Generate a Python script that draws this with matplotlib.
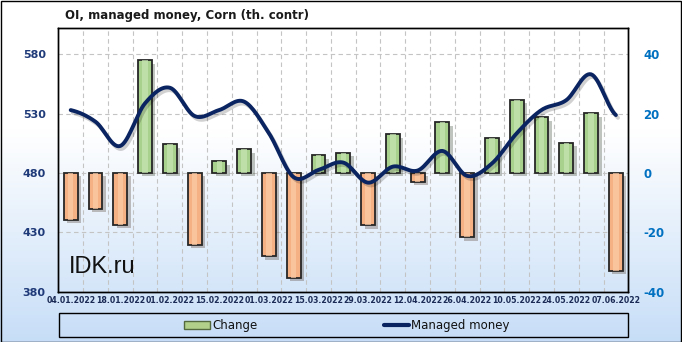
import numpy as np
import matplotlib.pyplot as plt
import matplotlib.patheffects as pe
from matplotlib.patches import Rectangle
from matplotlib.lines import Line2D

plt.rcParams['axes.unicode_minus'] = False

dates = ["04.01.2022", "11.01.2022", "18.01.2022", "25.01.2022", "01.02.2022", "08.02.2022",
         "15.02.2022", "22.02.2022", "01.03.2022", "08.03.2022", "15.03.2022", "22.03.2022",
         "29.03.2022", "05.04.2022", "12.04.2022", "19.04.2022", "26.04.2022", "03.05.2022",
         "10.05.2022", "17.05.2022", "24.05.2022", "31.05.2022", "07.06.2022"]
change = [-15.7, -12.0, -17.4, 38.0, 9.6, -24.2, 4.0, 8.0, -28.0, -35.3, 5.9, 6.8,
          -17.7, 13.0, -3.0, 17.1, -21.6, 11.9, 24.7, 18.7, 10.2, 20.1, -33.0]
managed = [532.9, 523.1, 502.7, 538.6, 551.7, 527.9, 533.0, 540.0, 513.4, 476.4, 482.5, 488.7,
           471.8, 485.3, 482.0, 498.5, 477.5, 488.0, 513.4, 533.0, 541.3, 563.0, 528.7]

W, H = 682, 342
navy = '#0a2461'
green = '#a9d18e'
orange = '#f5b183'


def smooth(y, n=16):
    # catmull-rom curve through the weekly points (drawing only)
    y = np.asarray(y, float)
    p = np.concatenate([[y[0]], y, [y[-1]]])
    xs, ys = [], []
    for i in range(len(y) - 1):
        p0, p1, p2, p3 = p[i], p[i + 1], p[i + 2], p[i + 3]
        t = np.linspace(0, 1, n, endpoint=False)
        v = 0.5 * ((2 * p1) + (-p0 + p2) * t + (2 * p0 - 5 * p1 + 4 * p2 - p3) * t ** 2
                   + (-p0 + 3 * p1 - 3 * p2 + p3) * t ** 3)
        xs.extend(i + t)
        ys.extend(v)
    xs.append(len(y) - 1)
    ys.append(y[-1])
    return np.array(xs), np.array(ys)


fig = plt.figure(figsize=(W / 100, H / 100), dpi=100)

# background gradient
bg = fig.add_axes([0, 0, 1, 1], zorder=-10)
grad = np.clip((0.62 - np.linspace(1, 0, 200)) / 0.62, 0, 1)[:, None]
top = np.array([1.0, 1.0, 1.0])
bot = np.array([0.78, 0.87, 0.97])
img = top + (bot - top) * grad[..., None]
img = np.repeat(img, 2, axis=1)
bg.imshow(img, aspect='auto', extent=[0, 1, 0, 1], origin='upper')
bg.set_xlim(0, 1)
bg.set_ylim(0, 1)
bg.axis('off')

axb = fig.add_axes([58.3 / W, 1 - 291.7 / H, (628.3 - 58.3) / W, (291.7 - 28) / H])
axb.patch.set_alpha(0)
axl = axb.twinx()

x = np.arange(len(dates))
cols = [green if v >= 0 else orange for v in change]
axb.bar(x, change, width=0.56, color=cols, edgecolor='#262626', linewidth=1.3, zorder=3,
        path_effects=[pe.SimplePatchShadow(offset=(2.5, -2.5), alpha=0.3), pe.Normal()])
hl = ['#c9e5b4' if v >= 0 else '#fbcba8' for v in change]
axb.bar(x, change, width=0.22, color=hl, linewidth=0, zorder=4, alpha=0.7)

axb.set_xlim(-0.5, len(dates) - 0.5)
axb.set_ylim(-40, 48.8)
axb.set_yticks([-40, -20, 0, 20, 40])
axb.yaxis.tick_right()
axb.set_xticks(x[::2])
axb.set_xticklabels(dates[::2])
axb.set_xticks(x[:-1] + 0.5, minor=True)
axb.grid(True, which='minor', axis='x', color='#c4c4c4', linestyle=(0, (4, 3)), linewidth=0.8)
axb.grid(True, which='major', axis='y', color='#c4c4c4', linestyle=(0, (4, 3)), linewidth=0.8)
axb.set_axisbelow(True)
axb.tick_params(axis='x', which='both', length=0, pad=3, labelsize=5.6, labelcolor='#1a2a55')
axb.tick_params(axis='y', length=0, pad=11, labelsize=8.5, labelcolor='#0070c0')
for t in axb.get_xticklabels():
    t.set_fontweight('bold')
for t in axb.get_yticklabels():
    t.set_fontweight('bold')

sx, sy = smooth(managed)
axl.plot(sx, sy, color=navy, linewidth=2.8, solid_capstyle='round', zorder=5,
         path_effects=[pe.SimpleLineShadow(offset=(1.5, -2), alpha=0.18), pe.Normal()])
axl.set_ylim(380, 602)
axl.set_yticks([380, 430, 480, 530, 580])
axl.yaxis.tick_left()
axl.tick_params(axis='y', length=0, pad=9, labelsize=8, labelcolor='#1f3a78')
for t in axl.get_yticklabels():
    t.set_fontweight('bold')
for a in (axb, axl):
    for s in a.spines.values():
        s.set_color('black')
        s.set_linewidth(1.0)

axb.text(0.018, 0.07, 'IDK.ru', transform=axb.transAxes, fontsize=17,
         family=['Liberation Sans', 'DejaVu Sans'], color='#111111', zorder=6)

fig.text(187 / W, 1 - 15 / H, 'OI, managed money, Corn (th. contr)', ha='center', va='center',
         fontsize=8.5, fontweight='bold', color='#1a1a1a')

# legend box
fig.patches.append(Rectangle((59 / W, 1 - 337 / H), (628 - 59) / W, 24 / H, transform=fig.transFigure,
                             fill=False, edgecolor='black', linewidth=1.0))
fig.patches.append(Rectangle((184 / W, 1 - 329 / H), 26 / W, 8 / H, transform=fig.transFigure,
                             facecolor='#b2d08a', edgecolor='#55693f', linewidth=1.0))
fig.lines.append(Line2D([384 / W, 409 / W], [1 - 325 / H, 1 - 325 / H], transform=fig.transFigure,
                        color=navy, linewidth=3, solid_capstyle='round'))
fig.text(212 / W, 1 - 325 / H, 'Change', ha='left', va='center', fontsize=8.5, color='#111111')
fig.text(411 / W, 1 - 325 / H, 'Managed money', ha='left', va='center', fontsize=8.5, color='#111111')

# outer border
fig.patches.append(Rectangle((0.5 / W, 0.5 / H), 1 - 1.5 / W, 1 - 1.5 / H, transform=fig.transFigure,
                             fill=False, edgecolor='black', linewidth=1.0))

fig.savefig('out.png', dpi=100)
